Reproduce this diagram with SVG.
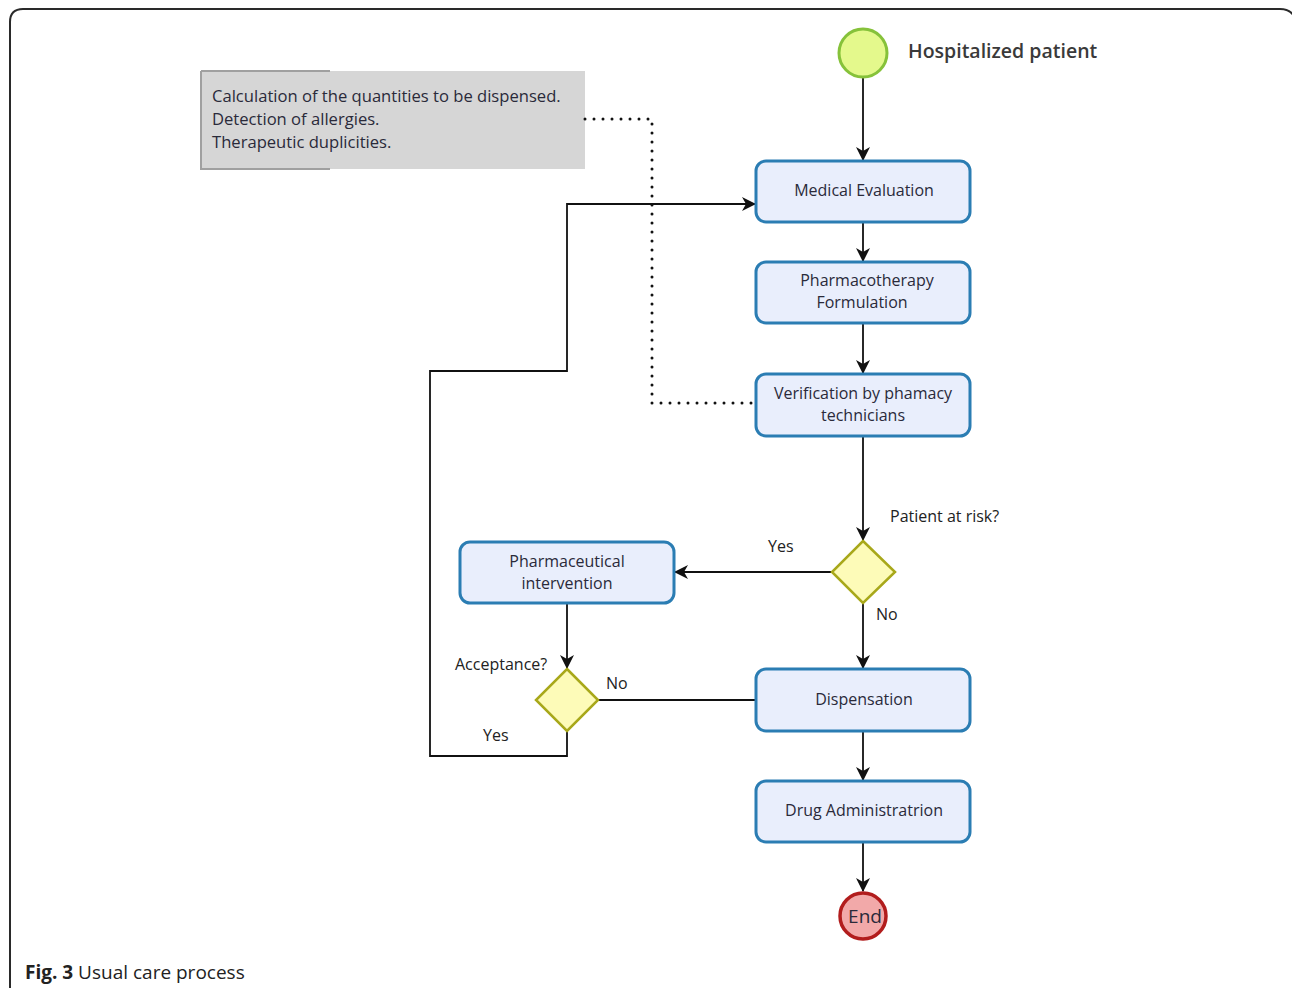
<svg xmlns="http://www.w3.org/2000/svg" width="1292" height="988" viewBox="0 0 1292 988">
<defs>
<style>
.box{fill:#e9eefc;stroke:#2b7db3;stroke-width:3}
.dia{fill:#fdfbb8;stroke:#a8a81a;stroke-width:2.5}
.t{font-family:"Open Sans","Noto Sans",sans-serif;font-size:16px;fill:#2a2a3a}
.n{font-family:"Open Sans","Noto Sans",sans-serif;font-size:16.6px;fill:#2a2a3a}
.lab{font-family:"Open Sans","Noto Sans",sans-serif;font-size:16px;fill:#222}
.c{fill:none;stroke:#111;stroke-width:1.8}
</style>
<marker id="ah" viewBox="0 0 14 14" refX="13" refY="7" markerWidth="14" markerHeight="14" markerUnits="userSpaceOnUse" orient="auto">
<path d="M0,0 L14,7 L0,14 L4,7 Z" fill="#111"/>
</marker>
</defs>
<rect x="0" y="0" width="1292" height="988" fill="#fff"/>
<path d="M10,996 L10,22 Q10,9 23,9 L1280,9 Q1292,9 1296,20" fill="none" stroke="#2a2a2a" stroke-width="2"/>

<g id="note">
<rect x="201" y="71" width="384" height="98" fill="#d6d6d6"/>
<path d="M201,71 L330,71 M201,71 L201,169 L330,169" fill="none" stroke="#a0a0a0" stroke-width="2"/>
<text class="n" x="212" y="102">Calculation of the quantities to be dispensed.</text>
<text class="n" x="212" y="125">Detection of allergies.</text>
<text class="n" x="212" y="148">Therapeutic duplicities.</text>
</g>

<g id="connectors">
<path class="c" d="M863,78 L863,160" marker-end="url(#ah)"/>
<path class="c" d="M863,222 L863,261" marker-end="url(#ah)"/>
<path class="c" d="M863,323 L863,373" marker-end="url(#ah)"/>
<path class="c" d="M863,436 L863,540" marker-end="url(#ah)"/>
<path class="c" d="M832,572 L675,572" marker-end="url(#ah)"/>
<path class="c" d="M863,603 L863,668" marker-end="url(#ah)"/>
<path class="c" d="M567,603 L567,668" marker-end="url(#ah)"/>
<path class="c" d="M598,700 L756,700"/>
<path class="c" d="M567,731 L567,756 L430,756 L430,371 L567,371 L567,204 L755,204" marker-end="url(#ah)"/>
<path class="c" d="M863,731 L863,780" marker-end="url(#ah)"/>
<path class="c" d="M863,842 L863,891" marker-end="url(#ah)"/>
<path d="M585,119 L652,119 L652,403 L756,403" fill="none" stroke="#111" stroke-width="3" stroke-dasharray="0 9" stroke-linecap="round"/>
</g>

<g id="start">
<circle cx="863" cy="53" r="24" fill="#e4f98c" stroke="#86c23a" stroke-width="3"/>
<text x="908" y="58" font-family="Open Sans, Noto Sans, sans-serif" font-size="19.5" font-weight="600" fill="#3a3a3a">Hospitalized patient</text>
</g>

<g id="medical-evaluation">
<rect class="box" x="756" y="161" width="214" height="61" rx="10"/>
<text class="t" x="864" y="196" text-anchor="middle">Medical Evaluation</text>
</g>

<g id="pharmacotherapy">
<rect class="box" x="756" y="262" width="214" height="61" rx="10"/>
<text class="t" x="867" y="286" text-anchor="middle">Pharmacotherapy</text>
<text class="t" x="862" y="308" text-anchor="middle">Formulation</text>
</g>

<g id="verification">
<rect class="box" x="756" y="374" width="214" height="62" rx="10"/>
<text class="t" x="863" y="399" text-anchor="middle">Verification by phamacy</text>
<text class="t" x="863" y="421" text-anchor="middle">technicians</text>
</g>

<g id="decision-risk">
<polygon class="dia" points="863,541 895,572 863,603 832,572"/>
<text class="lab" x="890" y="522">Patient at risk?</text>
<text class="lab" x="768" y="552">Yes</text>
<text class="lab" x="876" y="620">No</text>
</g>

<g id="pharmaceutical-intervention">
<rect class="box" x="460" y="542" width="214" height="61" rx="10"/>
<text class="t" x="567" y="567" text-anchor="middle">Pharmaceutical</text>
<text class="t" x="567" y="589" text-anchor="middle">intervention</text>
</g>

<g id="decision-acceptance">
<polygon class="dia" points="567,669 598,700 567,731 536,700"/>
<text class="lab" x="455" y="670">Acceptance?</text>
<text class="lab" x="606" y="689">No</text>
<text class="lab" x="483" y="741">Yes</text>
</g>

<g id="dispensation">
<rect class="box" x="756" y="669" width="214" height="62" rx="10"/>
<text class="t" x="864" y="705" text-anchor="middle">Dispensation</text>
</g>

<g id="drug-administration">
<rect class="box" x="756" y="781" width="214" height="61" rx="10"/>
<text class="t" x="864" y="816" text-anchor="middle">Drug Administratrion</text>
</g>

<g id="end">
<circle cx="863" cy="916" r="23" fill="#f2a9a9" stroke="#b21d1d" stroke-width="3.5"/>
<text x="865" y="923" text-anchor="middle" font-family="Open Sans, Noto Sans, sans-serif" font-size="19" fill="#2a2a3a">End</text>
</g>

<g id="caption">
<text x="25" y="979" font-family="Open Sans, Noto Sans, sans-serif" font-size="19" fill="#222"><tspan font-weight="bold">Fig. 3</tspan> Usual care process</text>
</g>
</svg>
